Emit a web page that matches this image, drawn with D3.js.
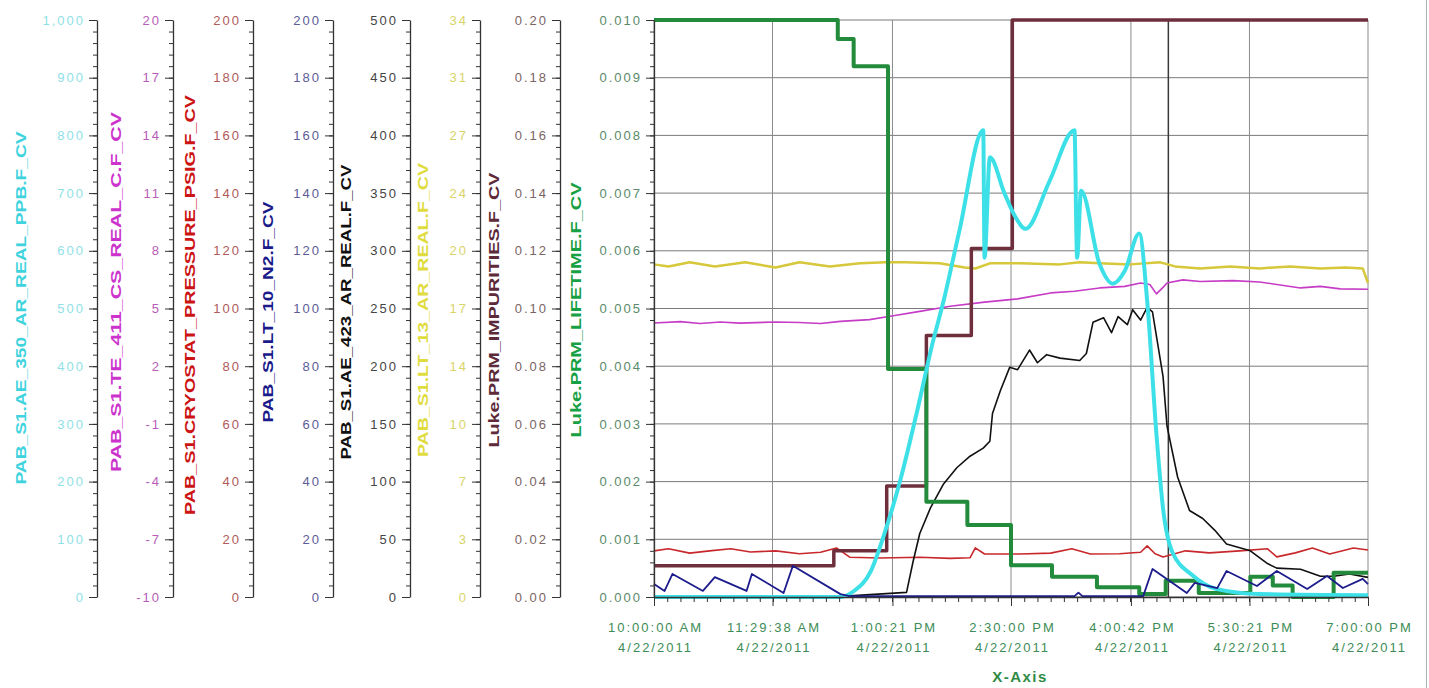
<!DOCTYPE html>
<html>
<head>
<meta charset="utf-8">
<script src="https://cdn.jsdelivr.net/npm/d3@7"></script>
<style>
  body { margin: 0; background: #fff; }
  svg { display: block; font-family: "Liberation Sans", Arial, sans-serif; }
</style>
</head>
<body>
<svg id="chart" width="1429" height="688"></svg>
<script>
// every series: [minutes after 10:00:00 AM on 4/22/2011, value]
const lifetime = [[0,0.0100],[139,0.00967],[151,0.0092],[177,0.00395],[206,0.00165],[237,0.00125],
  [270,0.00055],[301,0.00035],[335,0.00017],[367,0.00005],[387,0.00028],[412,0.00007],[451,0.00035],
  [468,0.0002],[483,0.0],[514,0.00042],[540,0.00042]];

const impurities = [[0,0.0108],[136,0.016],[176,0.0385],[206,0.0906],[240,0.1208],[271,0.2],[540,0.2]];

const ar350 = [[0,0],[141,0],[151,10],[164,45],[174,108],[186,200],[199,322],[211,443],[219,513],
  [231,635],[249,809],[250,588],[254,762],[265,700],[273,660],[281,638],[299,720],[318,809],[320,588],
  [323,704],[337,577],[347,543],[356,565],[367,630],[373,513],[380,282],[385,153],[392,78],[407,38],
  [425,14],[458,5],[540,3]];

const ar423 = [[0,1],[148,1],[191,4],[196,31],[201,55],[209,77],[219,98],[229,112],[239,122],[249,129],
  [254,135],[256,159],[262,179],[269,199],[275,197],[284,214],[290,203],[297,210],[307,207],[322,205],
  [327,211],[332,238],[340,242],[346,229],[351,243],[358,236],[362,249],[368,240],[373,251],[377,247],
  [385,191],[388,148],[396,104],[405,75],[415,68],[424,58],[433,46],[451,40],[464,29],[471,25],
  [489,24],[504,18],[514,18],[526,20],[540,17]];

const te411 = [[0,4.25],[20,4.32],[35,4.22],[50,4.30],[65,4.24],[92,4.30],[110,4.27],[126,4.22],
  [141,4.33],[163,4.42],[181,4.62],[201,4.85],[224,5.12],[250,5.33],[275,5.50],[300,5.81],[318,5.90],
  [337,6.07],[356,6.15],[368,6.33],[375,6.25],[380,5.76],[385,6.10],[388,6.33],[400,6.49],[413,6.40],
  [438,6.45],[458,6.38],[489,6.07],[504,6.15],[519,6.02],[540,6.00]];

const cryo = [[0,16.0],[11,16.7],[27,15.2],[42,16.0],[58,16.7],[73,15.6],[92,16.0],[110,15.0],
  [126,15.5],[138,17.0],[148,13.8],[171,13.5],[201,13.8],[224,13.4],[239,13.6],[243,17.0],[250,14.9],
  [277,14.9],[300,15.2],[316,16.7],[330,14.9],[352,15.0],[368,15.5],[373,17.7],[379,15.0],[385,13.9],
  [402,16.0],[420,15.3],[443,16.0],[464,16.7],[471,13.9],[485,15.3],[498,17.0],[511,14.9],[529,17.0],
  [540,16.3]];

const ln2 = [[0,4.5],[8,2.1],[14,8.0],[37,2.1],[46,6.9],[70,2.1],[74,8.0],[98,1.4],[105,10.8],
  [141,1.0],[148,0.3],[318,0.3],[321,1.5],[324,0.3],[370,0.3],[377,9.7],[403,1.4],[409,4.9],[426,3.1],
  [433,9.0],[456,3.8],[471,9.0],[494,2.8],[509,7.3],[521,3.1],[536,6.3],[540,4.5]];

const lt13 = [[0,19.6],[11,19.48],[27,19.72],[46,19.48],[69,19.72],[92,19.42],[110,19.72],[133,19.48],
  [156,19.66],[175,19.72],[190,19.72],[216,19.66],[235,19.42],[243,19.36],[254,19.66],[277,19.66],
  [307,19.6],[322,19.72],[337,19.66],[360,19.6],[383,19.72],[394,19.48],[413,19.36],[436,19.48],
  [458,19.36],[481,19.48],[504,19.36],[523,19.42],[536,19.36],[540,18.5]];

// y axes, left to right
const axisNames = ["PAB_S1.AE_350_AR_REAL_PPB.F_CV", "PAB_S1.TE_411_CS_REAL_C.F_CV",
  "PAB_S1.CRYOSTAT_PRESSURE_PSIG.F_CV", "PAB_S1.LT_10_N2.F_CV", "PAB_S1.AE_423_AR_REAL.F_CV",
  "PAB_S1.LT_13_AR_REAL.F_CV", "Luke.PRM_IMPURITIES.F_CV", "Luke.PRM_LIFETIME.F_CV"];
const axisMin = [0, -10, 0, 0, 0, 0, 0, 0];
const axisMax = [1000, 20, 200, 200, 500, 34, 0.20, 0.010];
const axisFormat = [",.0f", ".0f", ".0f", ".0f", ".0f", ".0f", ".2f", ".3f"];

// x axis
const xStart = "4/22/2011 10:00:00";
const xEnd = "4/22/2011 19:00:00";
const xTickTimes = ["4/22/2011 10:00:00", "4/22/2011 11:29:38", "4/22/2011 13:00:21", "4/22/2011 14:30:00",
  "4/22/2011 16:00:42", "4/22/2011 17:30:21", "4/22/2011 19:00:00"];
const cursorTime = "4/22/2011 16:29:00";

// styling / layout
const axisX = [97, 173, 253, 333, 410, 480, 560, 654];
const titleX = [20, 115, 189, 267, 345, 422, 493, 575];
const titleY = [308, 292, 305, 312, 312, 310, 310, 310];
const titleLen = [353, 360, 420, 221, 295, 294, 275, 255];
const titleColor = ["#3fd3de", "#cc33cc", "#cc1414", "#1a1a8a", "#111111", "#e0dc40", "#5c2a38", "#17a044"];
const labelColor = ["#8fdfe6", "#b75cb7", "#b05a5a", "#5c5c96", "#444444", "#d8d468", "#7a6464", "#5a8a68"];

const series = [
  { data: lt13,       axis: 5, color: "#d6c83a", width: 2.5, curve: d3.curveLinear },
  { data: te411,      axis: 1, color: "#c63cc6", width: 1.6, curve: d3.curveLinear },
  { data: cryo,       axis: 2, color: "#c8282c", width: 1.6, curve: d3.curveLinear },
  { data: ar423,      axis: 4, color: "#111111", width: 1.6, curve: d3.curveLinear },
  { data: impurities, axis: 6, color: "#6e2e3c", width: 3.5, curve: d3.curveStepAfter },
  { data: lifetime,   axis: 7, color: "#238c3c", width: 4,   curve: d3.curveStepAfter },
  { data: ar350,      axis: 0, color: "#3ee0e8", width: 4,   curve: d3.curveMonotoneX },
  { data: ln2,        axis: 3, color: "#1c1c8c", width: 1.8, curve: d3.curveLinear }
];

const plot = { left: 654, right: 1368, top: 20, bottom: 597 };

const locale = d3.formatLocale({ decimal: ".", thousands: ",", grouping: [3], currency: ["$", ""], minus: "-" });
const parseTime = d3.timeParse("%m/%d/%Y %H:%M:%S");
const t0 = parseTime(xStart);
const t1 = parseTime(xEnd);
const atMinute = m => d3.timeMinute.offset(t0, m);

const svg = d3.select("#chart");

const x = d3.scaleTime().domain([t0, t1]).range([plot.left, plot.right]);
const yScales = axisMin.map((mn, i) =>
  d3.scaleLinear().domain([mn, axisMax[i]]).range([plot.bottom, plot.top]));

const majorVals = i => d3.range(11).map(k => axisMin[i] + (axisMax[i] - axisMin[i]) * k / 10);
const minorVals = i => d3.range(51).map(k => axisMin[i] + (axisMax[i] - axisMin[i]) * k / 50);

// grid
const xTicks = xTickTimes.map(parseTime);
const grid = svg.append("g");
grid.selectAll("line.h")
    .data(majorVals(7))
    .enter().append("line")
    .attr("x1", plot.left).attr("x2", plot.right)
    .attr("y1", d => yScales[7](d)).attr("y2", d => yScales[7](d))
    .attr("stroke", "#7a7a7a").attr("stroke-width", 1);
grid.selectAll("line.v")
    .data(xTicks)
    .enter().append("line")
    .attr("x1", d => x(d)).attr("x2", d => x(d))
    .attr("y1", plot.top).attr("y2", plot.bottom)
    .attr("stroke", "#8c8c8c").attr("stroke-width", 1);

// cursor line
svg.append("line")
   .attr("x1", x(parseTime(cursorTime))).attr("x2", x(parseTime(cursorTime)))
   .attr("y1", plot.top).attr("y2", plot.bottom)
   .attr("stroke", "#3a3a3a").attr("stroke-width", 1.5);

// series
series.forEach(s => {
    const y = yScales[s.axis];
    const line = d3.line()
                   .x(d => x(atMinute(d[0])))
                   .y(d => y(d[1]))
                   .curve(s.curve);
    svg.append("path")
       .datum(s.data)
       .attr("d", line)
       .attr("fill", "none")
       .attr("stroke", s.color)
       .attr("stroke-width", s.width)
       .attr("stroke-linejoin", "round");
});

// y axes
axisNames.forEach((name, i) => {
    const g = svg.append("g").attr("transform", `translate(${axisX[i]},0)`);

    g.append("g")
     .call(d3.axisLeft(yScales[i]).tickValues(minorVals(i)).tickSize(4).tickFormat(""))
     .call(a => a.select(".domain").remove())
     .selectAll("line").attr("stroke", "#333");

    g.append("g")
     .call(d3.axisLeft(yScales[i]).tickValues(majorVals(i)).tickSize(8).tickSizeOuter(0)
             .tickPadding(4).tickFormat(locale.format(axisFormat[i])))
     .call(a => a.select(".domain").attr("stroke", "#333").attr("stroke-width", 1.3))
     .call(a => a.selectAll("line").attr("stroke", "#333"))
     .selectAll("text")
     .attr("fill", labelColor[i])
     .style("font-size", "13px")
     .style("letter-spacing", "2px");

    svg.append("text")
       .attr("transform", `translate(${titleX[i]},${titleY[i]}) rotate(-90)`)
       .attr("text-anchor", "middle")
       .attr("dominant-baseline", "central")
       .attr("textLength", titleLen[i])
       .attr("lengthAdjust", "spacingAndGlyphs")
       .attr("fill", titleColor[i])
       .style("font-size", "15px")
       .style("font-weight", "bold")
       .text(name);
});

// x axis
const xg = svg.append("g").attr("transform", `translate(0,${plot.bottom})`);
xg.append("g")
  .call(d3.axisBottom(x).ticks(d3.timeMinute.every(10)).tickSize(5).tickFormat(""))
  .call(a => a.select(".domain").remove())
  .selectAll("line").attr("stroke", "#333");

const fmtTime = d3.timeFormat("%-I:%M:%S %p");
const fmtDate = d3.timeFormat("%-m/%d/%Y");
const xAxis = xg.append("g")
  .call(d3.axisBottom(x).tickValues(xTicks).tickSize(9).tickSizeOuter(0).tickFormat(""));
xAxis.select(".domain").attr("stroke", "#333").attr("stroke-width", 1.3);
xAxis.selectAll("line").attr("stroke", "#333");

const xLabels = xAxis.selectAll(".tick")
  .append("text")
  .attr("fill", "#3d8c55")
  .attr("text-anchor", "middle")
  .style("font-size", "13px")
  .style("letter-spacing", "2px");
xLabels.append("tspan").attr("x", 1).attr("y", 35).text(d => fmtTime(d));
xLabels.append("tspan").attr("x", 1).attr("y", 55).text(d => fmtDate(d));

svg.append("text")
   .attr("x", 1020)
   .attr("y", 682)
   .attr("text-anchor", "middle")
   .attr("fill", "#2e8b45")
   .style("font-size", "15px")
   .style("font-weight", "bold")
   .style("letter-spacing", "1.5px")
   .text("X-Axis");

// outer frame edge on the right
svg.append("line")
   .attr("x1", 1426.5).attr("x2", 1426.5).attr("y1", 0).attr("y2", 688)
   .attr("stroke", "#b0b0b0");
</script>
</body>
</html>
